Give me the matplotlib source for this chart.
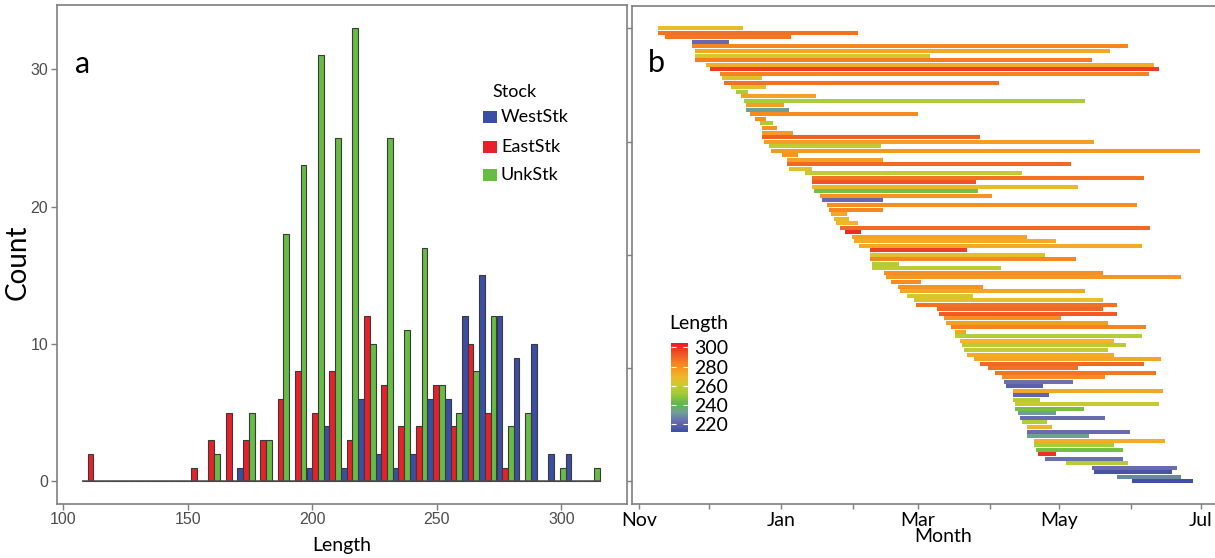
import numpy as np
import matplotlib
matplotlib.use("Agg")
import matplotlib.pyplot as plt
import matplotlib.colors as mcolors
from matplotlib.patches import Rectangle

# ---------------- panel a : length histogram by stock ----------------
bin_mid = [110.9, 117.8, 124.7, 131.7, 138.6, 145.6, 152.5, 159.4, 166.4, 173.3,
           180.2, 187.2, 194.1, 201.1, 208.0, 214.9, 221.9, 228.8, 235.7, 242.7,
           249.6, 256.6, 263.5, 270.4, 277.4, 284.3, 291.2, 298.2, 305.1, 312.1]
bin_width = 6.94
west_stk = [0, 0, 0, 0, 0, 0, 0, 0, 0, 1, 0, 0, 0, 1, 4, 1, 6, 2, 1, 2,
            6, 6, 12, 15, 12, 9, 10, 2, 2, 0]
east_stk = [2, 0, 0, 0, 0, 0, 1, 3, 5, 3, 3, 6, 8, 5, 8, 3, 12, 7, 4, 4,
            7, 4, 10, 5, 1, 0, 0, 0, 0, 0]
unk_stk = [0, 0, 0, 0, 0, 0, 0, 2, 0, 5, 3, 18, 23, 31, 25, 33, 10, 25, 11, 17,
           7, 5, 8, 12, 4, 5, 0, 1, 0, 1]
stock_names = ["WestStk", "EastStk", "UnkStk"]
stock_cols = ["#3C4EA3", "#E8202A", "#67BC46"]

# ---------------- panel b : detection period per fish ----------------
# days counted from 1 Nov
first_day = [8.1, 8.1, 11.0, 22.9, 22.9, 23.8, 23.8, 23.8, 28.8, 30.6,
             34.6, 35.7, 36.7, 39.6, 41.8, 43.9, 44.9, 46.0, 46.0, 47.9,
             49.9, 51.8, 52.8, 52.8, 52.8, 53.7, 55.8, 56.8, 61.6, 63.7,
             63.7, 64.7, 71.4, 74.5, 74.5, 74.5, 75.4, 77.9, 78.8, 80.7,
             81.7, 82.8, 83.8, 84.6, 86.7, 88.6, 91.5, 92.5, 94.5, 99.4,
             99.3, 99.3, 100.3, 100.3, 105.3, 106.3, 108.4, 111.4, 112.4, 115.5,
             118.4, 119.4, 128.3, 129.3, 131.2, 132.2, 134.2, 136.2, 136.2, 138.2,
             139.2, 140.1, 141.1, 144.1, 147.0, 150.3, 153.3, 156.2, 157.2, 158.2,
             161.1, 161.1, 161.1, 162.1, 162.1, 163.1, 164.1, 165.1, 167.0, 167.0,
             167.0, 170.0, 170.0, 171.0, 172.0, 174.9, 183.8, 195.0, 196.0, 205.9,
             212.5]
last_day = [44.7, 94.3, 65.5, 38.5, 210.7, 203.0, 125.3, 195.1, 221.8, 223.9,
            219.6, 52.8, 155.2, 54.7, 46.8, 76.2, 192.1, 62.4, 64.5, 120.3,
            54.7, 57.4, 59.5, 66.4, 146.9, 195.9, 104.2, 241.6, 68.4, 105.2,
            186.1, 74.3, 165.0, 217.6, 144.9, 189.0, 145.9, 152.2, 105.2, 214.7,
            105.2, 89.4, 90.4, 94.3, 220.3, 95.4, 166.9, 179.8, 216.5, 141.1,
            174.9, 188.1, 112.1, 156.0, 199.9, 233.6, 121.3, 148.0, 192.0, 144.0,
            199.9, 205.8, 199.9, 205.8, 181.8, 201.8, 218.5, 141.0, 216.6, 204.7,
            209.7, 201.9, 204.7, 224.7, 217.5, 189.0, 222.8, 200.7, 186.9, 173.9,
            225.7, 176.7, 172.8, 223.9, 191.8, 179.7, 200.7, 175.9, 177.8, 211.6,
            194.0, 226.7, 204.7, 208.6, 179.7, 208.6, 210.6, 231.8, 229.7, 233.6,
            238.7]
fish_len = [266, 287, 286, 222, 282, 274, 262, 284, 272, 298,
            283, 265, 287, 266, 252, 275, 254, 276, 232, 281,
            280, 254, 279, 277, 291, 276, 258, 278, 279, 275,
            289, 266, 259, 287, 293, 268, 245, 279, 222, 280,
            282, 274, 267, 270, 289, 301, 275, 273, 273, 298,
            265, 282, 255, 257, 280, 278, 281, 279, 274, 262,
            266, 287, 290, 292, 280, 276, 283, 274, 256, 270,
            257, 259, 272, 274, 289, 287, 286, 281, 224, 219,
            274, 221, 257, 260, 245, 232, 223, 255, 270, 223,
            233, 272, 252, 245, 300, 224, 256, 223, 215, 228,
            213]
month_ticks = [0, 61, 120, 181, 242]
month_labels = ["Nov", "Jan", "Mar", "May", "Jul"]
minor_ticks = [30, 92, 151, 212]
len_ticks = [220, 240, 260, 280, 300]
len_range = (211.4, 304.2)

# colour ramp for fish length
ramp_vals = [211.4, 222, 232, 241, 252, 262, 270, 280, 290, 304.2]
ramp_cols = ["#3A4DA0", "#6767B2", "#6F9E99", "#5DB848", "#A3CD3A",
             "#D2C92C", "#F2B42A", "#F7901F", "#F26524", "#EC1C24"]

W, H = 1215, 558
GRAY = "#7F7F7F"


def box(l, t, r, b):
    return [l / W, 1 - b / H, (r - l) / W, (b - t) / H]


fig = plt.figure(figsize=(W / 100, H / 100), dpi=100)

# ======================= panel a =======================
axa = fig.add_axes(box(56.7, 5.3, 626.7, 504))
x = np.array(bin_mid)
bw = bin_width / 3
for k, (vals, col) in enumerate(zip([west_stk, east_stk, unk_stk], stock_cols)):
    axa.bar(x + (k - 1) * bw, vals, width=bw, color=col,
            edgecolor="#3A3A3A", linewidth=0.8, zorder=2)
# zero-count bins show as a baseline across the histogram range
axa.hlines(0, x[0] - bin_width / 2, x[-1] + bin_width / 2, color="#4A4A4A",
           linewidth=1.1, zorder=3)

axa.set_xlim(97.3, 326.2)
axa.set_ylim(-1.65, 34.65)
axa.set_xticks([100, 150, 200, 250, 300])
axa.set_yticks([0, 10, 20, 30])
axa.tick_params(colors=GRAY, labelcolor="#4D4D4D", labelsize=11.5, length=4,
                width=1, pad=2)
for lab in axa.get_xticklabels() + axa.get_yticklabels():
    lab.set_family("Liberation Sans")
for s in axa.spines.values():
    s.set_color(GRAY)
    s.set_linewidth(1.2)

fig.text(75 / W, 1 - 73 / H, "a", fontsize=22, family="Lato", va="baseline")
fig.text(341.7 / W, 1 - 545 / H, "Length", fontsize=14, family="Lato",
         ha="center", va="center")
fig.text(18 / W, 1 - 262 / H, "Count", fontsize=20, family="Lato",
         ha="center", va="center", rotation=90)

# legend
fig.text(492.7 / W, 1 - 92 / H, "Stock", fontsize=13, family="Lato", va="center")
for i, (name, col) in enumerate(zip(stock_names, stock_cols)):
    yc = [117, 147, 175][i]
    fig.patches.append(Rectangle((482.7 / W, 1 - (yc + 6) / H), 14 / W, 12 / H,
                                 transform=fig.transFigure, facecolor=col,
                                 edgecolor="none"))
    fig.text(501 / W, 1 - yc / H, name, fontsize=13, family="Lato", va="center")

# ======================= panel b =======================
axb = fig.add_axes(box(631.7, 5.7, 1227, 504))
cmap = mcolors.LinearSegmentedColormap.from_list(
    "len", [((v - len_range[0]) / (len_range[1] - len_range[0]), c)
            for v, c in zip(ramp_vals, ramp_cols)])
norm = mcolors.Normalize(*len_range)
rows = np.arange(len(first_day))
axb.hlines(rows, first_day, last_day, colors=cmap(norm(np.array(fish_len))),
           linewidth=2.9, capstyle="butt")

axb.set_xlim(-3.3, 253.3)
axb.set_ylim(105, -5)
axb.set_xticks(month_ticks)
axb.set_xticklabels(month_labels)
axb.set_xticks(minor_ticks, minor=True)
axb.set_yticks([0, 25, 50, 75, 100])
axb.set_yticklabels([])
axb.tick_params(which="both", colors=GRAY, labelcolor="black", labelsize=14,
                length=3.5, width=1, pad=2)
for lab in axb.get_xticklabels():
    lab.set_family("Lato")
for s in axb.spines.values():
    s.set_color(GRAY)
    s.set_linewidth(1.2)

fig.text(648 / W, 1 - 72 / H, "b", fontsize=22, family="Lato", va="baseline")
fig.text(943 / W, 1 - 537 / H, "Month", fontsize=14, family="Lato",
         ha="center", va="center")

# colour bar legend
cax = fig.add_axes(box(670.7, 343.3, 688.3, 432.3))
sm = plt.cm.ScalarMappable(norm=norm, cmap=cmap)
cb = fig.colorbar(sm, cax=cax, ticks=len_ticks)
cb.outline.set_visible(False)
cax.tick_params(axis="y", direction="in", colors="white", labelcolor="black",
                length=3.5, width=0.8, labelsize=14, pad=4, left=True, right=True)
for lab in cax.get_yticklabels():
    lab.set_family("Lato")
fig.text(669 / W, 1 - 324 / H, "Length", fontsize=14, family="Lato", va="center")

fig.savefig("out.png", dpi=100)
